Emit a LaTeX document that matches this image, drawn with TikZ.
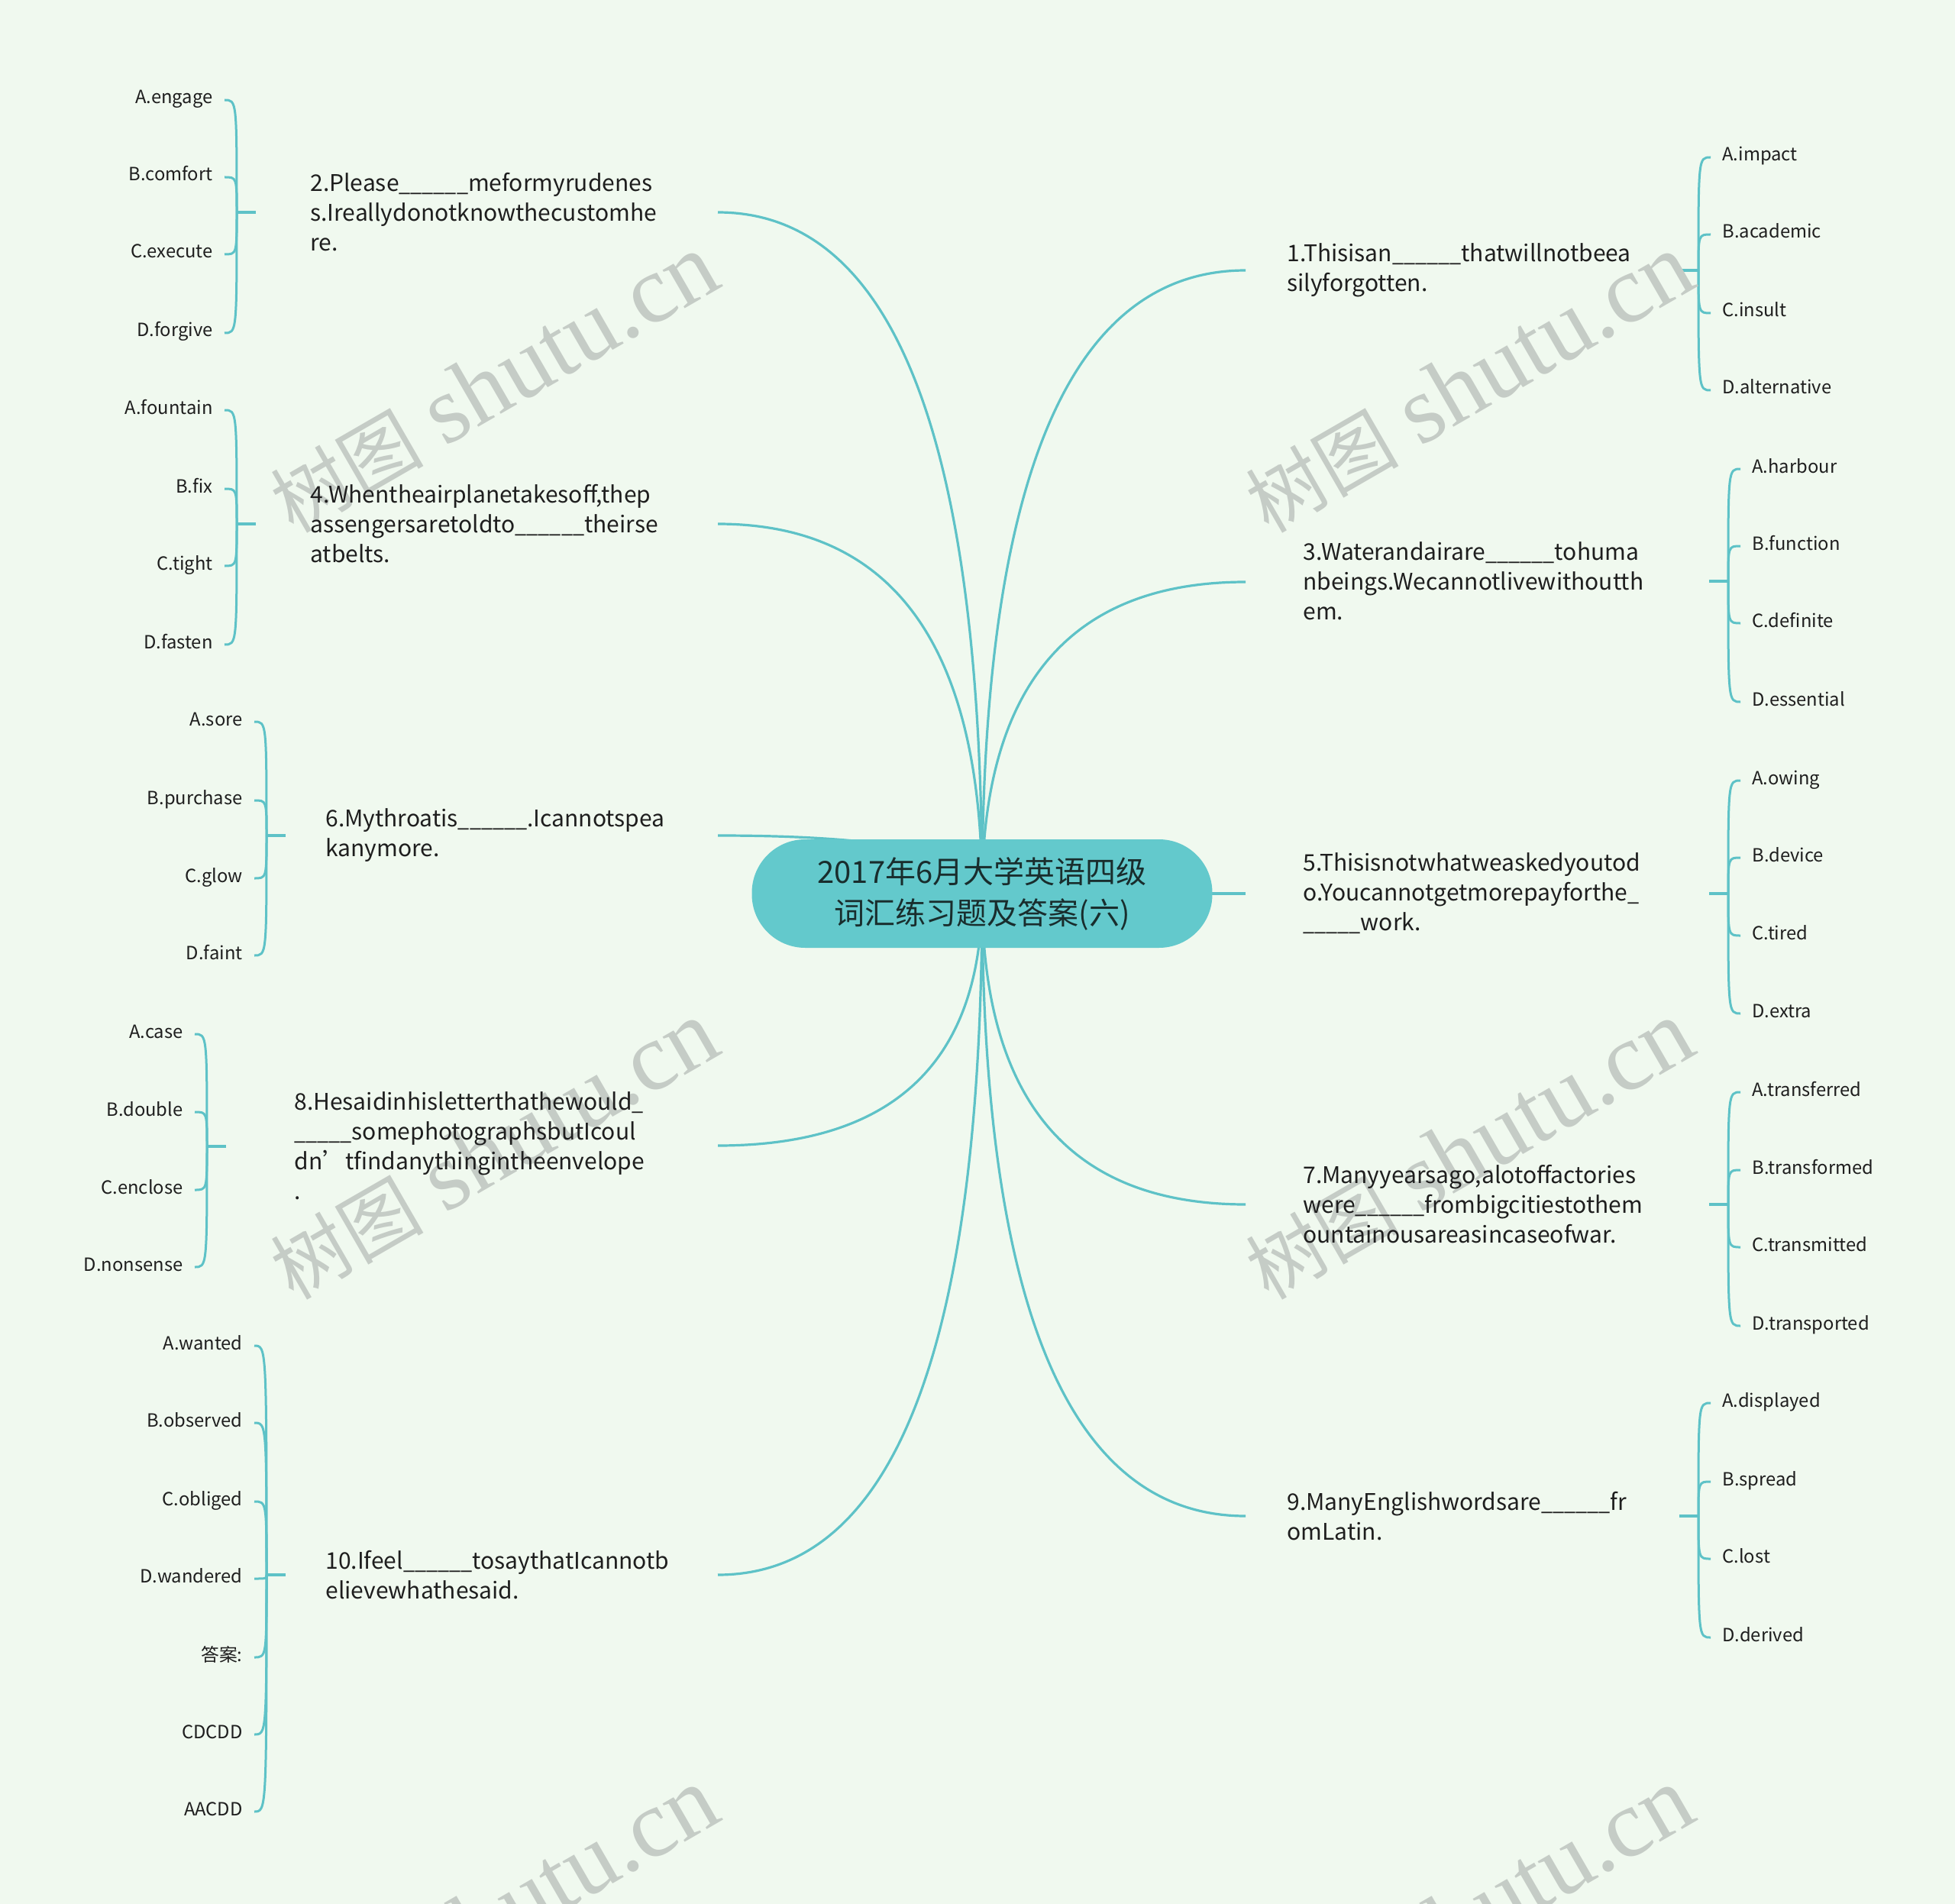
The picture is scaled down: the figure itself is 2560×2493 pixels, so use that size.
\documentclass[tikz,border=0pt]{standalone}
\usepackage{fontspec}
\usepackage{graphicx}
\setmainfont{Noto Sans CJK SC}
\newfontfamily\wmlatin{Liberation Serif}
\newfontfamily\wmcjk{Noto Sans CJK SC}
\usetikzlibrary{calc}
\pgfdeclarelayer{bg}
\pgfdeclarelayer{wm}
\pgfsetlayers{bg,wm,main}
\definecolor{bgc}{RGB}{240,249,239}
\definecolor{lc}{RGB}{94,194,199}
\definecolor{rootc}{RGB}{99,201,204}
\definecolor{tc}{RGB}{30,30,30}
\definecolor{rtc}{RGB}{25,45,45}
\definecolor{wmc}{RGB}{197,204,198}
\newcommand\myus{\scalebox{0.9}[1]{\_}}
\newcommand\myblank{\myus\myus\myus\myus\myus\myus}
\tikzset{
  conn/.style={draw=lc, line width=1.6pt},
  brk/.style={draw=lc, line width=1.5pt},
  stubline/.style={draw=lc, line width=2pt},
  qtext/.style={font=\fontsize{15}{19.5}\selectfont, text=tc, align=left, inner sep=0pt, anchor=west},
  optbase/.style={font=\fontsize{11.9}{14}\selectfont, text=tc, inner sep=0pt, text height=8pt, text depth=3pt, yshift=-2.5pt},
  optR/.style={optbase, anchor=west},
  optL/.style={optbase, anchor=east},
  root/.style={fill=rootc, rounded corners=35pt, minimum width=301.5pt, minimum height=71pt,
    align=center, font=\fontsize{20}{27}\selectfont, text=rtc, inner sep=0pt},
  wmark/.style={text=wmc, rotate=30, inner sep=0pt}
}
% right-hand option bracket: name, stub start x, spine x, text x, stub y, list
\newcommand\groupR[6]{%
  \coordinate (#1s) at (#2,#5);
  \coordinate (#1k) at (#3,#5);
  \foreach \y/\t [count=\i] in {#6} {
    \node[optR] (#1o\i) at (#4,\y) {\t};
  }
  \begin{pgfonlayer}{bg}
    \draw[stubline] (#1s) -- (#1k);
    \foreach \y/\t [count=\i] in {#6} {
      \draw[brk] (#1k) .. controls (#1k |- #1o\i.west) .. ([xshift=-7.5pt]#1o\i.west);
    }
  \end{pgfonlayer}
}
% left-hand option bracket: name, stub end x, spine x, text right x, stub y, list
\newcommand\groupL[6]{%
  \coordinate (#1s) at (#2,#5);
  \coordinate (#1k) at (#3,#5);
  \foreach \y/\t [count=\i] in {#6} {
    \node[optL] (#1o\i) at (#4,\y) {\t};
  }
  \begin{pgfonlayer}{bg}
    \draw[stubline] (#1s) -- (#1k);
    \foreach \y/\t [count=\i] in {#6} {
      \draw[brk] (#1k) .. controls (#1k |- #1o\i.east) .. ([xshift=7.5pt]#1o\i.east);
    }
  \end{pgfonlayer}
}
\begin{document}
\begin{tikzpicture}[x=0.5pt,y=-0.5pt]
\begin{pgfonlayer}{bg}
  \fill[bgc] (0,0) rectangle (2560,2493);
\end{pgfonlayer}
\useasboundingbox (0,0) rectangle (2560,2493);

% root
\node[root] (root) at (1286,1170) {2017年6月大学英语四级\\词汇练习题及答案(六)};

% questions
\node[qtext] (q1) at (1685,354) {1.Thisisan\myblank thatwillnotbeea\\silyforgotten.};
\node[qtext] (q3) at (1706,761) {3.Waterandairare\myblank tohuma\\nbeings.Wecannotlivewithoutth\\em.};
\node[qtext] (q5) at (1706,1170) {5.Thisisnotwhatweaskedyoutod\\o.Youcannotgetmorepayforthe\myus\\\myus\myus\myus\myus\myus work.};
\node[qtext] (q7) at (1706,1577) {7.Manyyearsago,alotoffactories\\were\myblank frombigcitiestothem\\ountainousareasincaseofwar.};
\node[qtext] (q9) at (1685,1985) {9.ManyEnglishwordsare\myblank fr\\omLatin.};
\node[qtext] (q2) at (406,278) {2.Please\myblank meformyrudenes\\s.Ireallydonotknowthecustomhe\\re.};
\node[qtext] (q4) at (406,686) {4.Whentheairplanetakesoff,thep\\assengersaretoldto\myblank theirse\\atbelts.};
\node[qtext] (q6) at (426,1094) {6.Mythroatis\myblank.Icannotspea\\kanymore.};
\node[qtext] (q8) at (385,1500) {8.Hesaidinhisletterthathewould\myus\\\myus\myus\myus\myus\myus somephotographsbutIcoul\\dn’tfindanythingintheenvelope\\.};
\node[qtext] (q10) at (426,2062) {10.Ifeel\myblank tosaythatIcannotb\\elievewhathesaid.};

% connector ends at question boxes
\coordinate (q1in) at (1631,354);
\coordinate (q3in) at (1631,762);
\coordinate (q5in) at (1631,1170);
\coordinate (q7in) at (1631,1577);
\coordinate (q9in) at (1631,1985);
\coordinate (q2in) at (940,278);
\coordinate (q4in) at (940,686);
\coordinate (q6in) at (940,1094);
\coordinate (q8in) at (940,1500);
\coordinate (q10in) at (940,2062);

\begin{pgfonlayer}{bg}
  \foreach \q in {q1,q3,q7,q9,q2,q4,q6,q8,q10} {
    \draw[conn] (root.center) .. controls ($(root.center)!2/3!(root.center |- \q in)$)
      and ($(\q in)!2/3!(root.center |- \q in)$) .. (\q in);
  }
  \draw[conn] (root.center) -- (q5in);
\end{pgfonlayer}

% option brackets
\groupR{q1}{2199}{2224}{2255}{354}{201/A.impact,302/B.academic,405/C.insult,506/D.alternative}
\groupR{q3}{2238}{2263}{2294}{761}{609/A.harbour,710/B.function,811/C.definite,914/D.essential}
\groupR{q5}{2238}{2263}{2294}{1170}{1017/A.owing,1118/B.device,1220/C.tired,1322/D.extra}
\groupR{q7}{2238}{2263}{2294}{1577}{1425/A.transferred,1527/B.transformed,1628/C.transmitted,1731/D.transported}
\groupR{q9}{2199}{2224}{2255}{1985}{1832/A.displayed,1935/B.spread,2036/C.lost,2139/D.derived}
\groupL{q2}{335}{310}{279}{278}{126/A.engage,227/B.comfort,328/C.execute,431/D.forgive}
\groupL{q4}{335}{310}{279}{686}{532/A.fountain,635/B.fix,736/C.tight,839/D.fasten}
\groupL{q6}{374}{349}{318}{1094}{940/A.sore,1043/B.purchase,1145/C.glow,1246/D.faint}
\groupL{q8}{296}{271}{240}{1501}{1349/A.case,1451/B.double,1553/C.enclose,1654/D.nonsense}
\groupL{q10}{374}{349}{318}{2062}{1757/A.wanted,1858/B.observed,1961/C.obliged,2062/D.wandered,2165/答案:,2266/CDCDD,2367/AACDD}

% watermark
\begin{pgfonlayer}{wm}
  \foreach \x/\y [count=\i] in {647/502,1924/502,647/1506,1924/1506,647/2510,1924/2510} {
    \node[wmark] (wm\i) at (\x,\y) {{\wmcjk\fontsize{50}{50}\selectfont 树图}\hspace{14pt}{\wmlatin\fontsize{63}{63}\selectfont shutu.cn}};
  }
\end{pgfonlayer}
\end{tikzpicture}
\end{document}
